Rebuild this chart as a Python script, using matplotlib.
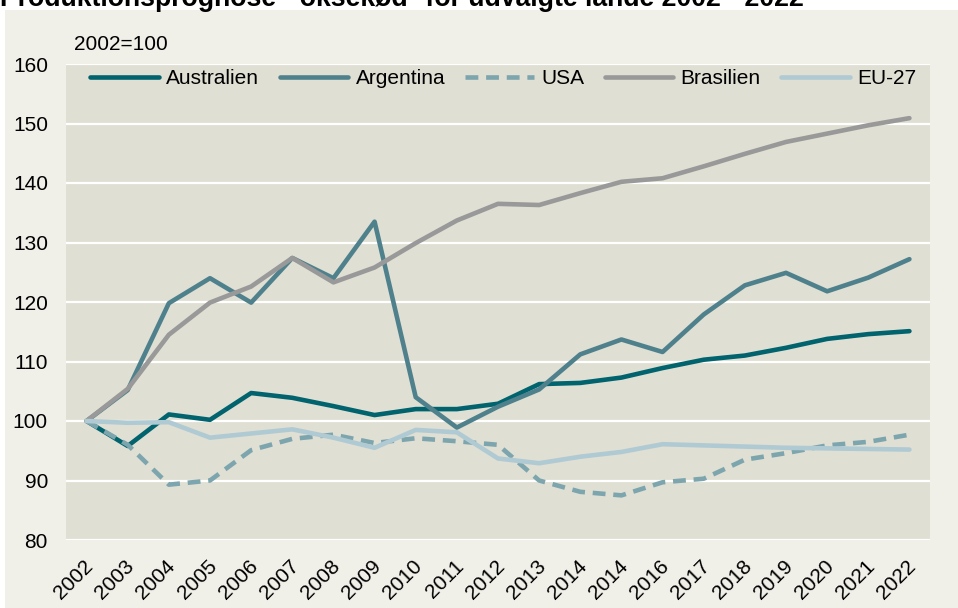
import matplotlib

matplotlib.use("Agg")
import matplotlib.pyplot as plt
from matplotlib.patches import Rectangle
from matplotlib.transforms import ScaledTranslation

YEARS = ["2002", "2003", "2004", "2005", "2006", "2007", "2008", "2009", "2010", "2011",
         "2012", "2013", "2014", "2014", "2016", "2017", "2018", "2019", "2020", "2021", "2022"]

AUSTRALIEN = [100, 95.8, 101.1, 100.2, 104.7, 103.9, 102.5, 101.0, 102.0, 102.0,
              102.9, 106.2, 106.4, 107.3, 108.9, 110.3, 111.0, 112.3, 113.8, 114.6, 115.1]
ARGENTINA = [100, 105.2, 119.8, 124.0, 119.9, 127.4, 124.0, 133.5, 104.0, 98.9,
             102.4, 105.3, 111.2, 113.7, 111.6, 117.9, 122.8, 124.9, 121.8, 124.1, 127.2]
USA = [100, 96.0, 89.3, 90.0, 95.1, 97.0, 97.7, 96.3, 97.1, 96.6,
       96.0, 90.0, 88.1, 87.5, 89.7, 90.3, 93.5, 94.6, 95.9, 96.5, 97.7]
BRASILIEN = [100, 105.4, 114.5, 119.9, 122.6, 127.4, 123.3, 125.8, 129.9, 133.7,
             136.5, 136.3, 138.3, 140.2, 140.8, 142.8, 144.9, 146.9, 148.3, 149.7, 150.9]
EU27 = [100, 99.7, 99.8, 97.2, 97.9, 98.6, 97.2, 95.5, 98.5, 98.1,
        93.7, 92.9, 94.0, 94.8, 96.1, 95.9, 95.7, 95.5, 95.4, 95.3, 95.2]

W, H = 958, 608
FONT = "Liberation Sans"
FS = 15

fig = plt.figure(figsize=(W / 100, H / 100), dpi=100, facecolor="white")
fig.patches.append(Rectangle((5 / W, 0), 1, 1 - 10 / H, transform=fig.transFigure,
                             facecolor="#F0EFE8", edgecolor="none", zorder=-10))
fig.text(0, 1 - 6 / H, "Produktionsprognose - oksekød* for udvalgte lande 2002 - 2022",
         fontsize=19.2, fontweight="bold", family=FONT, va="baseline", ha="left")

ax = fig.add_axes([66 / W, 68 / H, 864 / W, 476 / H])
ax.set_facecolor("#E0DFD3")
for s in ax.spines.values():
    s.set_visible(False)

x = range(len(YEARS))
lw = 3.3
ax.plot(x, AUSTRALIEN, color="#00636E", lw=lw, solid_capstyle="round", label="Australien", zorder=3)
ax.plot(x, ARGENTINA, color="#4F818D", lw=lw, solid_capstyle="round", label="Argentina", zorder=3)
ax.plot(x, USA, color="#7DA5AE", lw=lw, dashes=(2.8, 1.7), label="USA", zorder=3)
ax.plot(x, BRASILIEN, color="#999999", lw=lw, solid_capstyle="round", label="Brasilien", zorder=3)
ax.plot(x, EU27, color="#B0CAD4", lw=lw, solid_capstyle="round", label="EU-27", zorder=3)

ax.set_xlim(-0.5, len(YEARS) - 0.5)
ax.set_ylim(80, 160)
ax.set_yticks(range(80, 161, 10))
ax.grid(axis="y", color="white", lw=1.6, zorder=1)
ax.set_axisbelow(True)
ax.tick_params(axis="both", length=0, labelsize=FS)
ax.tick_params(axis="y", pad=13)
ax.set_xticks(list(x))
ax.set_xticklabels(YEARS, rotation=45, ha="right", rotation_mode="anchor")
ax.tick_params(axis="x", pad=12)
shift = ScaledTranslation(-0.03, 0, fig.dpi_scale_trans)
for lab in ax.get_xticklabels():
    lab.set_family(FONT)
    lab.set_transform(lab.get_transform() + shift)
for lab in ax.get_yticklabels():
    lab.set_family(FONT)

fig.text(74 / W, 1 - 44 / H, "2002=100", fontsize=FS, family=FONT, va="center")

leg = ax.legend(ncol=5, loc="upper left", bbox_to_anchor=(0.0185, 1.007), frameon=False,
                borderaxespad=0, handlelength=3.3, handletextpad=0.35, columnspacing=0.97,
                prop={"family": FONT, "size": FS})

fig.savefig("out.png", dpi=100, facecolor="white")
